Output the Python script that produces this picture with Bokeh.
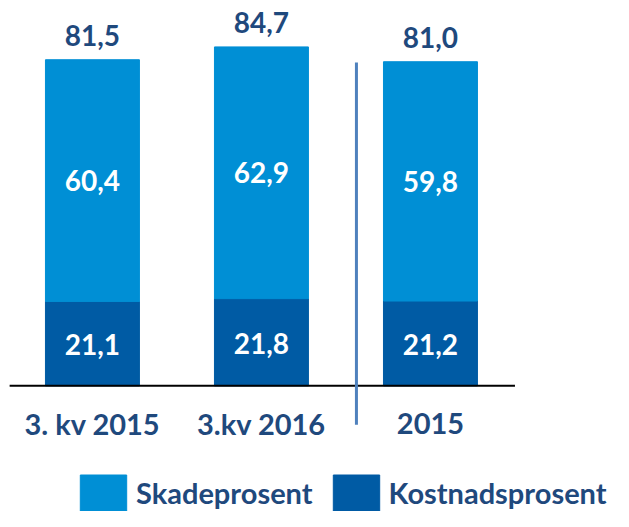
import numpy as np
from bokeh.plotting import figure
from bokeh.models import ColumnDataSource, Range1d, Legend, LegendItem
from bokeh.core.properties import value
from bokeh.embed import file_html
from bokeh.resources import INLINE

categories = ["3. kv 2015", "3.kv 2016", "2015"]
kostnadsprosent = [21.1, 21.8, 21.2]
skadeprosent = [60.4, 62.9, 59.8]

LIGHT = "#008FD5"
DARK = "#005BA4"
NAVY = "#1F497D"
SEP = "#4F81BD"
FONT = value("Lato")


def fmt(v):
    return f"{v:.1f}".replace(".", ",")


k = np.array(kostnadsprosent)
s = np.array(skadeprosent)
tot = k + s
x = np.arange(len(categories))

src = ColumnDataSource(dict(
    x=x, cat=categories, kost=k, skade=s, total=tot,
    kost_mid=k / 2, skade_mid=k + s / 2,
    kost_lbl=[fmt(v) for v in k], skade_lbl=[fmt(v) for v in s],
    total_lbl=[fmt(v) for v in tot],
))

p = figure(width=613, height=511, x_range=Range1d(-0.544, 3.083),
           y_range=Range1d(-31.4, 96.3), output_backend="svg",
           toolbar_location=None, x_axis_type=None, y_axis_type=None,
           min_border=0, outline_line_color=None)

rs = p.vbar_stack(["kost", "skade"], x="x", width=0.556,
                  color=[DARK, LIGHT], source=src)

# baseline
p.segment(x0=-0.49, y0=0, x1=len(categories) - 0.5, y1=0,
          line_color="black", line_width=2)
# separator between quarters and full year
p.segment(x0=1.562, y0=80.8, x1=1.562, y1=-9.7,
          line_color=SEP, line_width=3)

common = dict(source=src, text_font=FONT, text_font_style="bold",
              text_align="center", text_baseline="alphabetic")
p.text(x="x", y="total", text="total_lbl", text_color=NAVY,
       text_font_size="28px", y_offset=-24, **common)
p.text(x="x", y="skade_mid", text="skade_lbl", text_color="white",
       text_font_size="28px", y_offset=0, **common)
p.text(x="x", y="kost_mid", text="kost_lbl", text_color="white",
       text_font_size="28px", y_offset=1, **common)
p.text(x="x", y=-12.2, text="cat", text_color=NAVY,
       text_font_size="29px", y_offset=-11, **common)

legend = Legend(items=[LegendItem(label="Skadeprosent", renderers=[rs[1]]),
                       LegendItem(label="Kostnadsprosent", renderers=[rs[0]])],
                orientation="horizontal", location=(74, -4),
                glyph_width=58, glyph_height=45, label_standoff=4,
                spacing=14, padding=0, margin=0,
                border_line_color=None, background_fill_alpha=0,
                label_text_font="Lato", label_text_font_style="bold",
                label_text_font_size="29px", label_text_color=NAVY)
p.add_layout(legend)

open("out.html", "w").write(file_html(p, INLINE))
